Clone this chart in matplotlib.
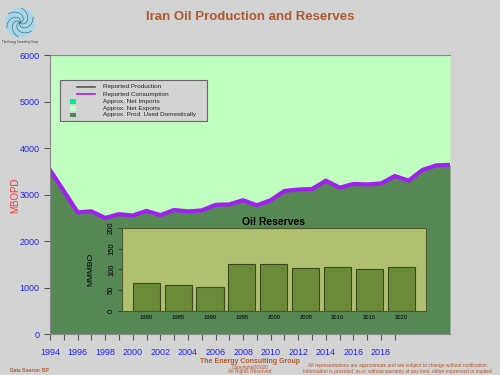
import numpy as np
import matplotlib.pyplot as plt
from matplotlib.patches import Rectangle, Circle

plt.rcParams['font.family'] = ['Liberation Sans', 'DejaVu Sans']

# consumption, MBOPD
years = list(range(1994, 2024))
consumption = [3530, 3080, 2620, 2640, 2500, 2580, 2550, 2650, 2560, 2670,
               2640, 2660, 2780, 2790, 2880, 2770, 2880, 3080, 3110, 3120,
               3300, 3150, 3230, 3220, 3240, 3400, 3300, 3530, 3630, 3640]

# reserves, billion barrels
res_years = ['1980', '1985', '1990', '1995', '2000', '2005', '2010', '2015', '2020']
reserves = [67, 62, 58, 113, 112, 104, 105, 102, 107]

legend_labels = ['Reported Production', 'Reported Consumption', 'Approx. Net Imports',
                 'Approx. Net Exports', 'Approx. Prod. Used Domestically']

bg = '#d3d3d3'
brown = '#b0582e'
light_green = '#c0ffc0'
dark_green = '#558855'
purple = '#a020f0'

fig = plt.figure(figsize=(5, 3.75), dpi=100, facecolor=bg)
ax = fig.add_axes([0.1, 0.109, 0.8, 0.744])
ax.set_facecolor(bg)

top = 6000
ax.fill_between(years, consumption, top, color=light_green, lw=0)
ax.fill_between(years, 0, consumption, color=dark_green, lw=0)
ax.plot(years, consumption, color=purple, lw=3, solid_joinstyle='round')

ax.set_xlim(1994, 2023)
ax.set_ylim(0, top)
ax.set_xticks(range(1994, 2020))
ax.set_xticklabels([str(y) if y % 2 == 0 else '' for y in range(1994, 2020)])
ax.set_yticks(range(0, 6001, 1000))
ax.tick_params(colors='#555555', labelcolor='#2222ee', labelsize=6.5, length=4, width=0.8)
ax.tick_params(axis='x', pad=6)
for s in ['left', 'bottom', 'top']:
    ax.spines[s].set_color('#888888')
ax.spines['right'].set_visible(False)
fig.text(0.03, 0.48, 'MBOPD', color='#ff3333', fontsize=7, rotation=90,
         ha='center', va='center')

# legend drawn by hand (axes fraction)
ax.add_patch(Rectangle((0.025, 0.763), 0.3675, 0.147, transform=ax.transAxes,
                       facecolor=bg, edgecolor='#666666', lw=0.8, zorder=5))
row_y = [0.886, 0.860, 0.834, 0.809, 0.786]
for i, lab in enumerate(legend_labels):
    y = row_y[i]
    if i == 0:
        ax.plot([0.0675, 0.1125], [y, y], color='#555555', lw=1.2,
                transform=ax.transAxes, zorder=6)
    elif i == 1:
        ax.plot([0.0675, 0.1125], [y, y], color=purple, lw=1.2,
                transform=ax.transAxes, zorder=6)
    else:
        col = ['#00ee99', light_green, dark_green][i - 2]
        ax.add_patch(Rectangle((0.05, y - 0.008), 0.016, 0.016, transform=ax.transAxes,
                               facecolor=col, lw=0, zorder=6))
    ax.text(0.133, y, lab, transform=ax.transAxes, fontsize=4.6, va='center',
            color='#222222', zorder=7)

# reserves inset
ins = fig.add_axes([0.244, 0.171, 0.608, 0.221])
ins.set_facecolor('#b0c070')
xs = np.arange(len(reserves))
ins.bar(xs, reserves, width=0.85, color='#6b8a3a', edgecolor='#3a4a1e', lw=0.8)
ins.set_xlim(-0.76, 8.77)
ins.set_ylim(0, 200)
ins.set_xticks(xs)
ins.set_xticklabels(res_years, fontsize=4.2)
ins.tick_params(axis='x', length=0, pad=3)
ins.set_yticks(range(0, 201, 50))
ins.set_yticklabels([str(v) for v in range(0, 201, 50)], rotation=90, va='center', fontsize=5.5)
ins.tick_params(axis='y', length=3, width=0.6, pad=2, colors='#333333', labelcolor='black')
for s in ins.spines.values():
    s.set_color('#4a5a2a')
ins.set_ylabel('MMMBO', fontsize=6, labelpad=10)
ins.set_title('Oil Reserves', fontsize=7.5, fontweight='bold', pad=2)

# title and footer
fig.text(0.5, 0.955, 'Iran Oil Production and Reserves', ha='center', va='center',
         fontsize=9.5, fontweight='bold', color=brown)
fig.text(0.02, 0.011, 'Data Source: BP', fontsize=3.5, color=brown, fontweight='bold',
         va='center')
fig.text(0.5, 0.037, 'The Energy Consulting Group', ha='center', va='center', fontsize=5,
         fontweight='bold', color=brown)
fig.text(0.5, 0.021, 'Copyright@2020', ha='center', va='center', fontsize=3.5, color=brown)
fig.text(0.5, 0.008, 'All Rights Reserved', ha='center', va='center', fontsize=3.5, color=brown)
fig.text(0.795, 0.024, 'All representations are approximate and are subject to change without notification.',
         ha='center', va='center', fontsize=3.5, color=brown)
fig.text(0.795, 0.008, "Information is provided 'as is' without warranty of any kind, either expressed or implied",
         ha='center', va='center', fontsize=3.5, color=brown)

# logo
lg = fig.add_axes([0.01, 0.9, 0.06, 0.08])
lg.set_aspect('equal')
lg.axis('off')
lg.add_patch(Circle((0, 0), 1, color='#a8d8e8'))
t = np.linspace(0, 2.5, 50)
for k in range(6):
    a = k * np.pi / 3
    lg.plot(0.4 * t * np.cos(t + a), 0.4 * t * np.sin(t + a), color='#335566', lw=0.4)
lg.set_xlim(-1.05, 1.05)
lg.set_ylim(-1.05, 1.05)
fig.text(0.04, 0.885, 'The Energy Consulting Group', ha='center', fontsize=2, color='#333333')

fig.savefig('out.png', dpi=100, facecolor=bg)
